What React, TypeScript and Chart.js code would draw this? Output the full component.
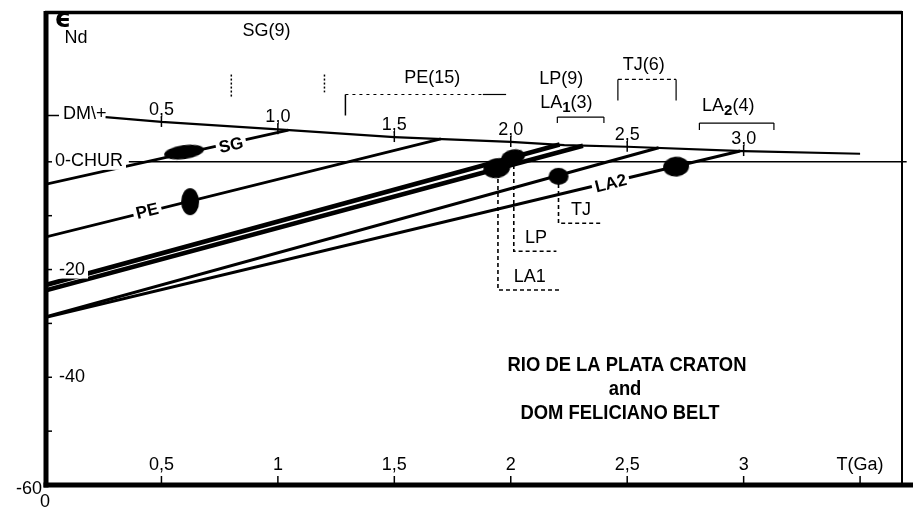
import { useEffect, useRef } from "react";
import { Chart, registerables } from "chart.js";

Chart.register(...registerables);

// ---- axes -----------------------------------------------------------------
const AGE_MIN = 0;
const AGE_MAX = 3.68;
const EPS_MIN = -60;
const EPS_MAX = 28;
const AGE_TICKS = [0.5, 1, 1.5, 2, 2.5, 3, 3.5];
const AGE_TICK_LABELS = ["0,5", "1", "1,5", "2", "2,5", "3", "T(Ga)"];
const EPS_TICKS = [0, -10, -20, -30, -40, -50];
const EPS_TICK_LABELS = ["", "", "-20", "", "-40", ""];

// ---- reservoirs -----------------------------------------------------------
const DM_AGES = [0.26, 0.5, 1.05, 1.5, 1.68, 2.0, 2.23, 2.5, 3.0, 3.5];
const DM_EPS = [8.3, 7.4, 5.9, 4.6, 4.25, 3.7, 3.1, 2.8, 2.0, 1.5];
const DM_MARK_AGES = [0.5, 1.0, 1.5, 2.0, 2.5, 3.0];
const DM_MARK_LABELS = ["0,5", "1,0", "1,5", "2,0", "2,5", "3,0"];
const CHUR_AGES = [0.36, 3.7];
const CHUR_EPS = [0, 0];

// ---- Nd evolution lines (present-day εNd -> depleted mantle) ---------------
const SG_AGES = [0, 1.045];
const SG_EPS = [-4.2, 5.9];
const PE_AGES = [0, 1.7];
const PE_EPS = [-14.0, 4.25];
const LP_AGES = [0, 2.21];
const LP_EPS = [-22.9, 3.2];
const LA1_AGES = [0, 2.31];
const LA1_EPS = [-23.9, 3.0];
const TJ_AGES = [0, 2.635];
const TJ_EPS = [-28.8, 2.6];
const LA2_AGES = [0, 2.985];
const LA2_EPS = [-28.9, 2.0];

// ---- sample clusters ------------------------------------------------------
const SAMPLE_NAMES = ["SG", "PE", "LA1", "LP", "TJ", "LA2"];
const SAMPLE_AGES = [0.597, 0.623, 1.94, 2.01, 2.205, 2.71];
const SAMPLE_EPS = [1.8, -7.4, -1.2, 0.9, -2.7, -0.9];

// ---- crystallisation-age boxes under the clusters -------------------------
const DROP_NAMES = ["LA1", "LP", "TJ"];
const DROP_AGES = [1.945, 2.013, 2.205];
const DROP_TOP = [-1.9, -0.6, -4.1];
const DROP_BOTTOM = [-23.8, -16.6, -11.4];
const DROP_END = [2.21, 2.196, 2.39];

// ---- TDM ranges (number of analyses) --------------------------------------
const RANGE_NAMES = ["SG", "PE", "LP", "LA1", "TJ", "LA2"];
const RANGE_COUNTS = [9, 15, 9, 3, 6, 4];
const RANGE_FROM = [0.8, 1.29, 2.2, 2.2, 2.46, 2.81];
const RANGE_TO = [1.2, 1.98, 2.4, 2.4, 2.71, 3.13];

const FONT = '"Liberation Sans", Arial, sans-serif';

// cluster shapes: width / height in px, tilt in degrees
const SAMPLE_SHAPES = [
  { w: 40, h: 14, rot: -8 },
  { w: 18, h: 27, rot: 0 },
  { w: 27, h: 20, rot: -10 },
  { w: 24, h: 15, rot: -12 },
  { w: 20, h: 17, rot: 0 },
  { w: 26, h: 20, rot: -5 },
];

// label placement for the range annotations: centre age, εNd
const RANGE_LABEL_POS = [
  { x: 0.951, y: 24.3 },
  { x: 1.663, y: 15.6 },
  { x: 2.217, y: 15.4 },
  { x: 2.239, y: 11.0 },
  { x: 2.571, y: 17.9 },
  { x: 2.934, y: 10.3 },
];

type Seg = { t: string; sub?: boolean };

function richLabel(name: string, n: number): Seg[] {
  const m = name.match(/^(.*?)(\d)$/);
  const segs: Seg[] = m ? [{ t: m[1] }, { t: m[2], sub: true }] : [{ t: name }];
  segs.push({ t: `(${n})` });
  return segs;
}

function stroke(ctx: CanvasRenderingContext2D, x1: number, y1: number, x2: number, y2: number, w: number, dash: number[] = []) {
  ctx.save();
  ctx.lineWidth = w;
  ctx.setLineDash(dash);
  ctx.beginPath();
  ctx.moveTo(x1, y1);
  ctx.lineTo(x2, y2);
  ctx.stroke();
  ctx.restore();
}

function label(
  ctx: CanvasRenderingContext2D,
  s: string,
  x: number,
  y: number,
  o: { size?: number; weight?: string; align?: CanvasTextAlign; sx?: number; rot?: number; bg?: boolean; family?: string } = {}
) {
  const { size = 18, weight = "normal", align = "center", sx = 1, rot = 0, bg = false, family = FONT } = o;
  ctx.save();
  ctx.translate(x, y);
  if (rot) ctx.rotate((rot * Math.PI) / 180);
  ctx.scale(sx, 1);
  ctx.font = `${weight} ${size}px ${family}`;
  ctx.textAlign = align;
  ctx.textBaseline = "middle";
  if (bg) {
    const w = ctx.measureText(s).width;
    const x0 = align === "center" ? -w / 2 : align === "left" ? 0 : -w;
    ctx.fillStyle = "#fff";
    ctx.fillRect(x0 - 3, -size * 0.5, w + 6, size);
  }
  ctx.fillStyle = "#000";
  ctx.fillText(s, 0, 0);
  ctx.restore();
}

function richText(ctx: CanvasRenderingContext2D, segs: Seg[], cx: number, cy: number, size = 18) {
  const fontN = `normal ${size}px ${FONT}`;
  const fontS = `bold ${Math.round(size * 0.82)}px ${FONT}`;
  ctx.save();
  ctx.textBaseline = "middle";
  ctx.textAlign = "left";
  const widths = segs.map((s) => {
    ctx.font = s.sub ? fontS : fontN;
    return ctx.measureText(s.t).width;
  });
  let x = cx - widths.reduce((a, b) => a + b, 0) / 2;
  ctx.fillStyle = "#000";
  segs.forEach((s, i) => {
    ctx.font = s.sub ? fontS : fontN;
    ctx.fillText(s.t, x, s.sub ? cy + 5 : cy);
    x += widths[i];
  });
  ctx.restore();
}

function lineAt(ages: number[], eps: number[], a: number) {
  return eps[0] + ((a - ages[0]) / (ages[1] - ages[0])) * (eps[1] - eps[0]);
}

function ellipseImage(w: number, h: number) {
  const c = document.createElement("canvas");
  c.width = w + 2;
  c.height = h + 2;
  const g = c.getContext("2d")!;
  g.fillStyle = "#000";
  g.beginPath();
  g.ellipse(c.width / 2, c.height / 2, w / 2, h / 2, 0, 0, Math.PI * 2);
  g.fill();
  return c;
}

const decorations = {
  id: "decorations",
  afterDatasetsDraw(chart: any) {
    const ctx: CanvasRenderingContext2D = chart.ctx;
    const X = (v: number) => chart.scales.x.getPixelForValue(v);
    const Y = (v: number) => chart.scales.y.getPixelForValue(v);
    const ca = chart.chartArea;
    ctx.save();
    ctx.strokeStyle = "#000";
    ctx.fillStyle = "#000";

    // frame
    stroke(ctx, X(0) + 1, ca.top, X(0) + 1, ca.bottom + 2.5, 5);
    stroke(ctx, X(0) - 1.5, Y(EPS_MIN), chart.width, Y(EPS_MIN), 5);
    stroke(ctx, X(0), ca.top + 1.5, ca.right, ca.top + 1.5, 3.5);
    stroke(ctx, ca.right, ca.top, ca.right, ca.bottom, 2);

    // age axis ticks and labels (inside the frame)
    AGE_TICKS.forEach((a, i) => {
      stroke(ctx, X(a), ca.bottom, X(a), ca.bottom - 9, 1.5);
      label(ctx, AGE_TICK_LABELS[i], X(a), ca.bottom - 20);
    });
    label(ctx, "0", X(0), ca.bottom + 17);
    label(ctx, "-60", X(0) - 3, Y(EPS_MIN) + 4, { align: "right" });

    // εNd axis ticks and labels
    EPS_TICKS.forEach((e, i) => {
      stroke(ctx, X(0), Y(e), X(0) + 7, Y(e), 1.5);
      if (EPS_TICK_LABELS[i]) label(ctx, EPS_TICK_LABELS[i], X(0) + 27, Y(e), { bg: true });
    });
    stroke(ctx, X(0), Y(8.6), X(0) + 14, Y(8.6), 1.5);
    label(ctx, "DM\\+", X(0) + 18, Y(8.9), { align: "left" });
    label(ctx, "0-CHUR", X(0) + 10, Y(0) - 1, { align: "left", bg: true });

    // axis title
    label(ctx, "\u03f5", 63, 20, { size: 26, weight: "bold", family: '"DejaVu Sans", sans-serif' });
    label(ctx, "Nd", 76, 38);

    // age marks along the depleted mantle curve
    DM_MARK_AGES.forEach((a, i) => {
      let e = DM_EPS[0];
      for (let k = 0; k < DM_AGES.length - 1; k++) {
        if (a >= DM_AGES[k] && a <= DM_AGES[k + 1]) {
          e = DM_EPS[k] + ((a - DM_AGES[k]) / (DM_AGES[k + 1] - DM_AGES[k])) * (DM_EPS[k + 1] - DM_EPS[k]);
        }
      }
      stroke(ctx, X(a), Y(e) - 6, X(a), Y(e) + 5, 1.5);
      label(ctx, DM_MARK_LABELS[i], X(a), Y(e) - 12);
    });

    // labels on the evolution lines
    {
      const a = 0.8;
      label(ctx, "SG", X(a), Y(lineAt(SG_AGES, SG_EPS, a)) + 3, { weight: "bold", size: 17, rot: -12, bg: true });
    }
    {
      const a = 0.44;
      label(ctx, "PE", X(a), Y(lineAt(PE_AGES, PE_EPS, a)), { weight: "bold", size: 17, rot: -14, bg: true });
    }
    {
      const a = 2.43;
      label(ctx, "LA2", X(a), Y(lineAt(LA2_AGES, LA2_EPS, a)) + 2, { weight: "bold", size: 17, rot: -14, bg: true });
    }

    // crystallisation-age box labels
    DROP_NAMES.forEach((n, i) => {
      const cx = (X(DROP_AGES[i]) + X(DROP_END[i])) / 2 + 1;
      label(ctx, n, cx, Y(DROP_BOTTOM[i]) - 13);
    });

    // TDM range brackets
    const top = (v: number) => Y(v);
    // SG: dotted ends only
    stroke(ctx, X(RANGE_FROM[0]), top(16.2), X(RANGE_FROM[0]), top(12.0), 1.5, [2, 2]);
    stroke(ctx, X(RANGE_TO[0]), top(16.2), X(RANGE_TO[0]), top(12.9), 1.5, [2, 2]);
    // PE
    stroke(ctx, X(RANGE_FROM[1]), top(12.5), X(RANGE_FROM[1]), top(8.6), 1.5);
    stroke(ctx, X(RANGE_FROM[1]), top(12.5), X(1.88), top(12.5), 1.2, [3, 4]);
    stroke(ctx, X(1.88), top(12.5), X(RANGE_TO[1]), top(12.5), 1.2);
    // LP / LA1
    stroke(ctx, X(RANGE_FROM[2]), top(8.3), X(RANGE_TO[2]), top(8.3), 1.2);
    stroke(ctx, X(RANGE_FROM[2]), top(8.3), X(RANGE_FROM[2]), top(7.2), 1.2);
    stroke(ctx, X(RANGE_TO[2]), top(8.3), X(RANGE_TO[2]), top(7.2), 1.2);
    // TJ
    stroke(ctx, X(RANGE_FROM[4]), top(15.3), X(RANGE_TO[4]), top(15.3), 1.2, [4, 3]);
    stroke(ctx, X(RANGE_FROM[4]), top(15.3), X(RANGE_FROM[4]), top(11.4), 1.2);
    stroke(ctx, X(RANGE_TO[4]), top(15.3), X(RANGE_TO[4]), top(11.4), 1.2);
    // LA2
    stroke(ctx, X(RANGE_FROM[5]), top(7.2), X(RANGE_TO[5]), top(7.2), 1.2);
    stroke(ctx, X(RANGE_FROM[5]), top(7.2), X(RANGE_FROM[5]), top(5.9), 1.2);
    stroke(ctx, X(RANGE_TO[5]), top(7.2), X(RANGE_TO[5]), top(5.9), 1.2);

    RANGE_NAMES.forEach((n, i) => {
      const p = RANGE_LABEL_POS[i];
      richText(ctx, richLabel(n, RANGE_COUNTS[i]), X(p.x), Y(p.y));
    });

    // title block
    label(ctx, "RIO DE LA PLATA CRATON", 627, 365, { weight: "bold", size: 20, sx: 0.92 });
    label(ctx, "and", 625, 389, { weight: "bold", size: 20, sx: 0.92 });
    label(ctx, "DOM FELICIANO BELT", 620, 413, { weight: "bold", size: 20, sx: 0.92 });

    ctx.restore();
  },
};

export default function App() {
  const ref = useRef<HTMLCanvasElement>(null);

  useEffect(() => {
    const canvas = ref.current;
    if (!canvas) return;

    const pts = (ages: number[], eps: number[]) => ages.map((a, i) => ({ x: a, y: eps[i] }));
    const path = (ages: number[], eps: number[], width: number, extra: object = {}) => ({
      data: pts(ages, eps),
      showLine: true,
      borderColor: "#000",
      backgroundColor: "#000",
      borderWidth: width,
      pointRadius: 0,
      tension: 0,
      order: 2,
      ...extra,
    });

    const drops = DROP_NAMES.map((_, i) =>
      path(
        [DROP_AGES[i], DROP_AGES[i], DROP_END[i]],
        [DROP_TOP[i], DROP_BOTTOM[i], DROP_BOTTOM[i]],
        1.6,
        { borderDash: [4, 3] }
      )
    );

    const clusters = {
      data: pts(SAMPLE_AGES, SAMPLE_EPS),
      showLine: false,
      pointStyle: SAMPLE_SHAPES.map((s) => ellipseImage(s.w, s.h)),
      pointRotation: SAMPLE_SHAPES.map((s) => s.rot),
      pointRadius: 10,
      order: 0,
    };

    const chart = new Chart(canvas, {
      type: "scatter",
      data: {
        labels: SAMPLE_NAMES,
        datasets: [
          clusters as any,
          path(DM_AGES, DM_EPS, 2.2, { clip: false }),
          path(CHUR_AGES, CHUR_EPS, 1.6, { clip: false }),
          path(SG_AGES, SG_EPS, 2.8),
          path(PE_AGES, PE_EPS, 2.8),
          path(LP_AGES, LP_EPS, 4.6),
          path(LA1_AGES, LA1_EPS, 4.6),
          path(TJ_AGES, TJ_EPS, 3),
          path(LA2_AGES, LA2_EPS, 3),
          ...drops,
        ],
      },
      options: {
        animation: false,
        responsive: false,
        devicePixelRatio: 1,
        events: [],
        layout: { padding: { left: 45, top: 8, right: 5, bottom: 24 } },
        plugins: { legend: { display: false }, tooltip: { enabled: false } },
        scales: {
          x: { type: "linear", min: AGE_MIN, max: AGE_MAX, display: false },
          y: { type: "linear", min: EPS_MIN, max: EPS_MAX, display: false },
        },
      },
      plugins: [decorations],
    });

    return () => chart.destroy();
  }, []);

  return (
    <div style={{ position: "fixed", left: 0, top: 0, width: 913, height: 509, background: "#fff" }}>
      <canvas ref={ref} width={913} height={509} style={{ display: "block" }} />
    </div>
  );
}
